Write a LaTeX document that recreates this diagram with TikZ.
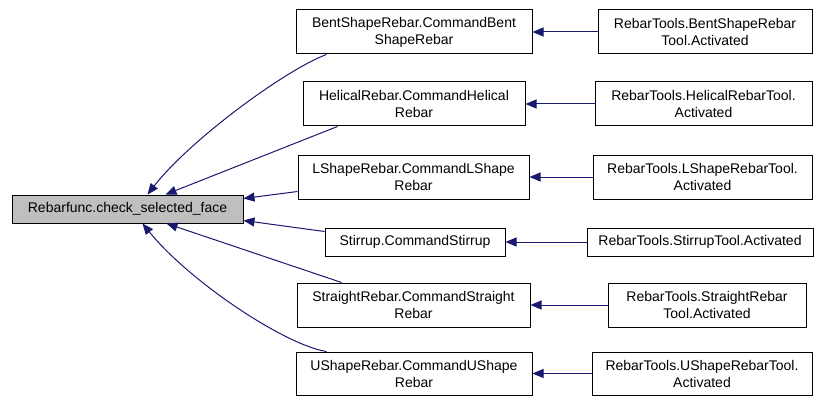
\documentclass[tikz,border=0pt]{standalone}
\usepackage{fontspec}
\setmainfont{Liberation Sans}
\usetikzlibrary{arrows.meta}
\definecolor{edgeblue}{HTML}{191970}
\definecolor{focusgray}{HTML}{BFBFBF}
\begin{document}
\begin{tikzpicture}[x=1pt,y=-1pt,
  box/.style={draw=black,line width=1pt,fill=white,inner sep=0pt,align=center,
    font=\fontsize{14}{17}\selectfont},
  focus/.style={box,fill=focusgray},
  caller/.style={draw=edgeblue,line width=1pt,{Triangle[length=11pt,width=9pt]}-}]
\useasboundingbox (0,0) rectangle (815,396);

% function whose callers are shown
\node[focus,minimum width=231pt,minimum height=28pt] (main) at (127.5,209) {Rebarfunc.check\_selected\_face};

% direct callers
\node[box,minimum width=236pt,minimum height=44pt] (bent) at (414,32) {BentShapeRebar.CommandBent\\ShapeRebar};
\node[box,minimum width=222pt,minimum height=44pt] (helical) at (414,104) {HelicalRebar.CommandHelical\\Rebar};
\node[box,minimum width=231pt,minimum height=44pt] (lshape) at (413.5,177) {LShapeRebar.CommandLShape\\Rebar};
\node[box,minimum width=180pt,minimum height=28pt] (stirrup) at (415,242) {Stirrup.CommandStirrup};
\node[box,minimum width=233pt,minimum height=44pt] (straight) at (413.5,305) {StraightRebar.CommandStraight\\Rebar};
\node[box,minimum width=236pt,minimum height=43pt] (ushape) at (414,373.5) {UShapeRebar.CommandUShape\\Rebar};

% tool activation entry points
\node[box,minimum width=214pt,minimum height=44pt] (benttool) at (705,32) {RebarTools.BentShapeRebar\\Tool.Activated};
\node[box,minimum width=217pt,minimum height=44pt] (helicaltool) at (703.5,104) {RebarTools.HelicalRebarTool.\\Activated};
\node[box,minimum width=219pt,minimum height=44pt] (lshapetool) at (702.5,177) {RebarTools.LShapeRebarTool.\\Activated};
\node[box,minimum width=226pt,minimum height=28pt] (stirruptool) at (700,242) {RebarTools.StirrupTool.Activated};
\node[box,minimum width=198pt,minimum height=44pt] (straighttool) at (707,305) {RebarTools.StraightRebar\\Tool.Activated};
\node[box,minimum width=220pt,minimum height=43pt] (ushapetool) at (702,373.5) {RebarTools.UShapeRebarTool.\\Activated};

% calls into check_selected_face
\draw[caller] ([xshift=136pt]main.north west) .. controls (190,140) and (285,70) .. ([xshift=31pt]bent.south west);
\draw[caller] ([xshift=154pt]main.north west) -- ([xshift=35pt]helical.south west);
\draw[caller] ([yshift=-4pt]main.north east) -- ([yshift=8pt]lshape.south west);
\draw[caller] ([yshift=3pt]main.south east) -- ([yshift=-4pt]stirrup.north west);
\draw[caller] ([xshift=155pt]main.south west) -- ([xshift=45pt]straight.north west);
\draw[caller] ([xshift=131pt]main.south west) .. controls (190,282) and (285,345) .. ([xshift=31pt]ushape.north west);

% tools calling their commands
\draw[caller] (bent.east) -- (benttool.west);
\draw[caller] (helical.east) -- (helicaltool.west);
\draw[caller] (lshape.east) -- (lshapetool.west);
\draw[caller] (stirrup.east) -- (stirruptool.west);
\draw[caller] (straight.east) -- (straighttool.west);
\draw[caller] (ushape.east) -- (ushapetool.west);
\end{tikzpicture}
\end{document}
